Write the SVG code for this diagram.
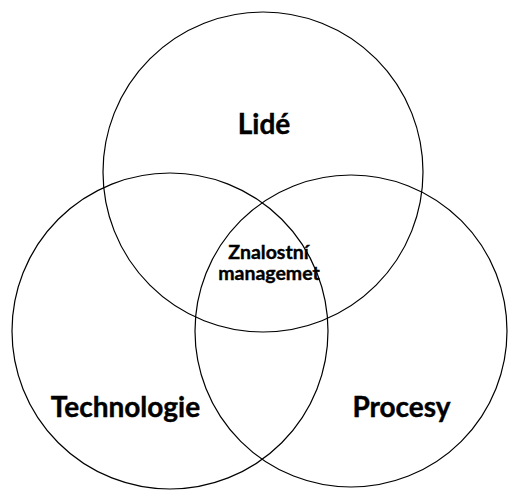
<svg xmlns="http://www.w3.org/2000/svg" width="508" height="490" viewBox="0 0 508 490">
<style>
.c{fill:none;stroke:#000;stroke-width:1.2}
.t{font-family:Lato,"Open Sans","Liberation Sans",sans-serif;font-weight:bold;fill:#000;text-anchor:middle;stroke:#000;stroke-width:0.4}
.big{font-size:28px}
.sm{font-size:19.5px}
</style>
<rect width="508" height="490" fill="#fff"/>
<g id="lide"><circle class="c" cx="263" cy="172" r="160"/><text class="t big" x="264" y="134">Lidé</text></g>
<g id="technologie"><circle class="c" cx="170" cy="331" r="158"/><text class="t big" x="125.5" y="417">Technologie</text></g>
<g id="procesy"><circle class="c" cx="351" cy="331" r="156"/><text class="t big" x="401.5" y="417">Procesy</text></g>
<g id="znalostni"><text class="t sm" x="268.5" y="259">Znalostní</text><text class="t sm" x="269" y="280">managemet</text></g>
<g id="connectors"/>
</svg>
